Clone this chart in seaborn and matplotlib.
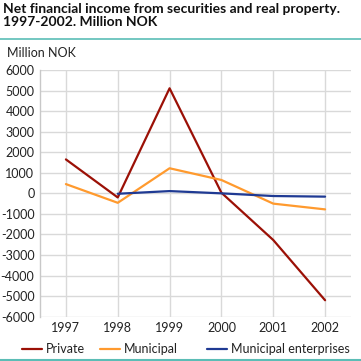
import matplotlib
matplotlib.use("Agg")
import matplotlib.pyplot as plt
import seaborn as sns
import pandas as pd
import numpy as np
from matplotlib.lines import Line2D

years = [1997, 1998, 1999, 2000, 2001, 2002]
private = [1650, -200, 5110, 30, -2270, -5200]
municipal = [450, -460, 1220, 650, -500, -780]
municipal_ent = [np.nan, -20, 110, 0, -130, -160]
series_names = ["Private", "Municipal", "Municipal enterprises"]
colors = ["#9b1006", "#ff9a2e", "#1f3a93"]
yticks = list(range(-6000, 6001, 1000))

df = pd.DataFrame({
    "year": years * 3,
    "value": private + municipal + municipal_ent,
    "series": [series_names[0]] * 6 + [series_names[1]] * 6 + [series_names[2]] * 6,
})

sns.set_theme(style="white")
plt.rcParams["font.family"] = ["Lato", "DejaVu Sans"]

fig = plt.figure(figsize=(3.61, 3.61), dpi=100)
ax = fig.add_axes([40 / 361, 1 - 316.7 / 361, 311 / 361, 246.7 / 361])

sns.lineplot(data=df, x="year", y="value", hue="series", hue_order=series_names,
             palette=colors, linewidth=1.6, ax=ax, legend=False, zorder=3)

ax.set_xlim(1996.5, 2002.5)
ax.set_ylim(-6000, 6000)
ax.set_xticks(years)
ax.set_xticklabels([str(y) for y in years])
ax.set_yticks(yticks)
ax.set_yticklabels([str(t) for t in yticks])
ax.grid(True, color="#d9d9d9", linewidth=1)
ax.set_axisbelow(True)
for s in ["top", "right", "bottom"]:
    ax.spines[s].set_visible(False)
ax.spines["left"].set_color("#c8c8c8")
ax.spines["left"].set_linewidth(1)
ax.tick_params(axis="both", length=0, labelsize=9, colors="#222222", pad=4)
ax.set_xlabel("")
ax.set_ylabel("")

fig.text(3 / 361, 1 - 3 / 361, "Net financial income from securities and real property.\n1997-2002. Million NOK",
         ha="left", va="top", fontsize=10, fontweight="bold", color="#111111", linespacing=1.05)
fig.add_artist(Line2D([0, 1], [1 - 38.5 / 361] * 2, color="#5bbdb6", linewidth=1.2))
fig.add_artist(Line2D([0, 1], [1 - 360 / 361] * 2, color="#5bbdb6", linewidth=1.5))
fig.text(7 / 361, 1 - 53 / 361, "Million NOK", ha="left", va="center", fontsize=9, color="#222222")

# legend entries placed to match the reference
leg_y = 1 - 349 / 361
line_x = [22, 100, 207]
for x0, name, c in zip(line_x, series_names, colors):
    fig.add_artist(Line2D([x0 / 361, (x0 + 20) / 361], [leg_y, leg_y], color=c, linewidth=1.6))
    fig.text((x0 + 24) / 361, leg_y, name, ha="left", va="center", fontsize=9, color="#222222")

fig.savefig("out.png", dpi=100)
